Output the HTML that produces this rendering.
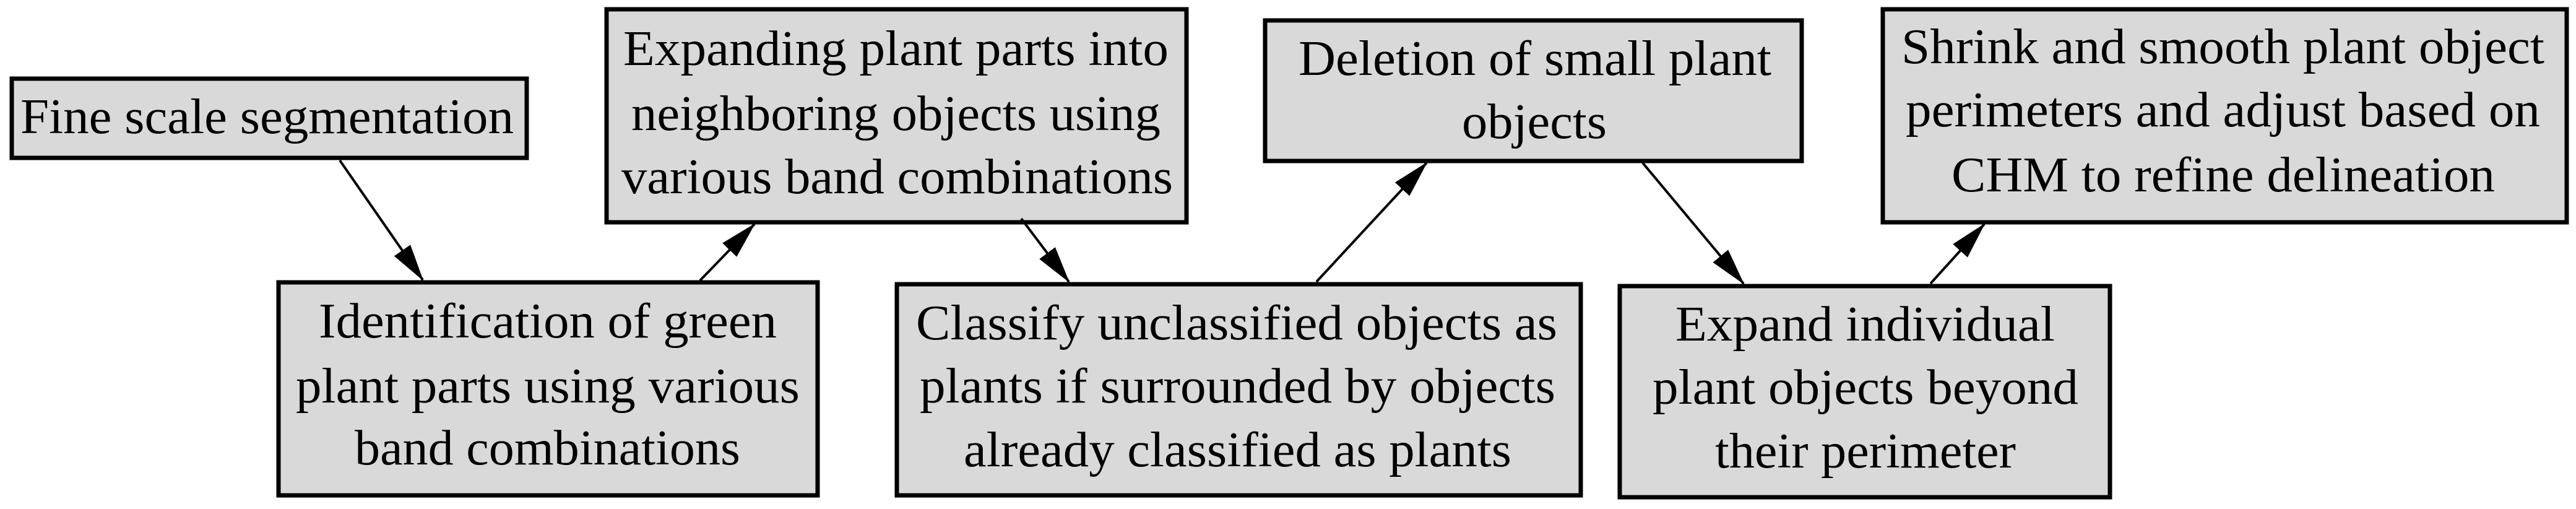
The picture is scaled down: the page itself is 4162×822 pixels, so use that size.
<!DOCTYPE html>
<html><head><meta charset="utf-8"><style>html,body{margin:0;padding:0;background:#fff;}svg{display:block}</style></head>
<body>
<svg width="4162" height="822" viewBox="0 0 4162 822" xmlns="http://www.w3.org/2000/svg">
<defs>
<marker id="ah" viewBox="0 0 60 32" refX="58" refY="16" markerWidth="60" markerHeight="32" markerUnits="userSpaceOnUse" orient="auto">
<path d="M0,0 L60,16 L0,32 Z" fill="#000"/>
</marker>
</defs>
<g fill="#d9d9d9" stroke="#000" stroke-width="7">
<rect x="19" y="127" width="832" height="128"/>
<rect x="980" y="15" width="937" height="344"/>
<rect x="450" y="456" width="871" height="344"/>
<rect x="1449" y="459" width="1105" height="341"/>
<rect x="2044" y="33" width="867" height="227"/>
<rect x="3042" y="15" width="1105" height="344"/>
<rect x="2617" y="462" width="792" height="341"/>
</g>
<g stroke="#000" stroke-width="4" fill="none" marker-end="url(#ah)">
<line x1="549" y1="259" x2="683" y2="452"/>
<line x1="1131" y1="453" x2="1219" y2="362"/>
<line x1="1650" y1="353" x2="1727" y2="455"/>
<line x1="2127" y1="455" x2="2305" y2="263"/>
<line x1="2654" y1="263" x2="2817" y2="458"/>
<line x1="3119" y1="458" x2="3206" y2="362"/>
</g>
<g font-family="Liberation Serif, serif" font-size="80" fill="#000" lengthAdjust="spacingAndGlyphs">
<text x="33" y="215" textLength="797" lengthAdjust="spacingAndGlyphs">Fine scale segmentation</text>
<text x="1007" y="105" textLength="881" lengthAdjust="spacingAndGlyphs">Expanding plant parts into</text>
<text x="1020" y="210" textLength="855" lengthAdjust="spacingAndGlyphs">neighboring objects using</text>
<text x="1004" y="312" textLength="891" lengthAdjust="spacingAndGlyphs">various band combinations</text>
<text x="515" y="545" textLength="740" lengthAdjust="spacingAndGlyphs">Identification of green</text>
<text x="478" y="650" textLength="814" lengthAdjust="spacingAndGlyphs">plant parts using various</text>
<text x="573" y="750" textLength="623" lengthAdjust="spacingAndGlyphs">band combinations</text>
<text x="1480" y="548" textLength="1036" lengthAdjust="spacingAndGlyphs">Classify unclassified objects as</text>
<text x="1486" y="650" textLength="1027" lengthAdjust="spacingAndGlyphs">plants if surrounded by objects</text>
<text x="1557" y="753" textLength="885" lengthAdjust="spacingAndGlyphs">already classified as plants</text>
<text x="2098" y="121" textLength="764" lengthAdjust="spacingAndGlyphs">Deletion of small plant</text>
<text x="2362" y="223" textLength="234" lengthAdjust="spacingAndGlyphs">objects</text>
<text x="3072" y="102" textLength="1039" lengthAdjust="spacingAndGlyphs">Shrink and smooth plant object</text>
<text x="3079" y="204" textLength="1025" lengthAdjust="spacingAndGlyphs">perimeters and adjust based on</text>
<text x="3153" y="309" textLength="878" lengthAdjust="spacingAndGlyphs">CHM to refine delineation</text>
<text x="2707" y="550" textLength="613" lengthAdjust="spacingAndGlyphs">Expand individual</text>
<text x="2670" y="652" textLength="688" lengthAdjust="spacingAndGlyphs">plant objects beyond</text>
<text x="2771" y="755" textLength="486" lengthAdjust="spacingAndGlyphs">their perimeter</text>
</g>
</svg>
</body></html>
